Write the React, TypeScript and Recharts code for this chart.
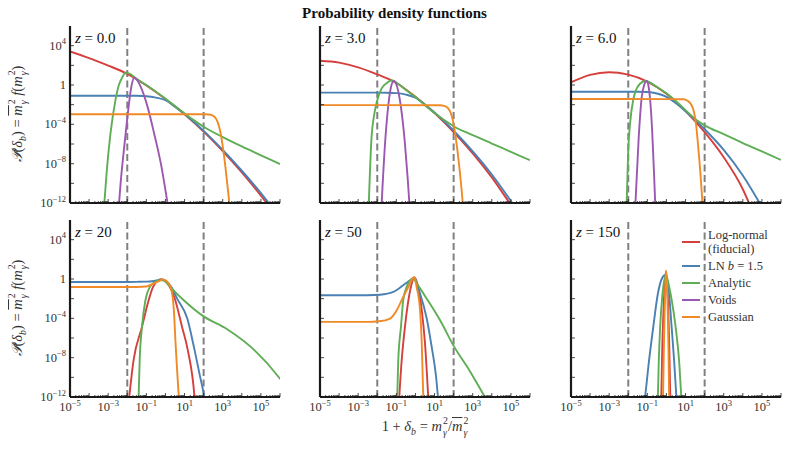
import React from 'react';
import { LineChart, Line, XAxis, YAxis, ReferenceLine, Legend } from 'recharts';

// ---- values: pairs of [log10(1+δb), log10 P] ----
const redZ0 = [[-5, 3.41], [-4, 2.73], [-3, 1.98], [-2, 1.13], [-1, -0.05], [0, -1.42], [1, -2.97], [2, -4.73], [3, -6.71], [4, -8.89], [5, -11.26], [6, -13.8]];
const blueZ0 = [[-5, -1.09], [-3, -1.09], [-2, -1.09], [-1.5, -1.1], [-1, -1.14], [-0.5, -1.28], [0, -1.55], [0.5, -2.2], [1, -2.95], [2, -4.66], [3, -6.6], [4, -8.72], [5, -11.0], [6, -13.5]];
const greenZ0 = [[-3.24, -13], [-3.06, -8.4], [-2.88, -4.95], [-2.62, -1.54], [-2.44, 0], [-2.26, 0.78], [-2.09, 1.26], [-1.9, 1.17], [-1.7, 0.92], [-1.5, 0.6], [-1, 0.0], [0, -1.4], [1, -2.9], [1.5, -3.6], [2, -4.25], [3, -5.3], [4, -6.25], [5, -7.15], [6, -8.05]];
const purpleZ0 = [[-2.47, -13], [-2.35, -10.0], [-2.18, -6.65], [-2.0, -3.4], [-1.91, -1.88], [-1.77, 0.0], [-1.63, 0.75], [-1.45, 0.4], [-1.3, -0.17], [-0.94, -2.2], [-0.59, -4.95], [-0.24, -8.0], [0.17, -12.8]];
const orangeZ0 = [[-5, -2.97], [-2, -2.97], [1, -2.97], [2, -2.98], [2.3, -3.0], [2.55, -3.2], [2.72, -3.7], [2.88, -4.8], [3.02, -6.5], [3.15, -8.5], [3.28, -10.8], [3.4, -13]];

const redZ3 = [[-5, 2.46], [-4, 2.27], [-3, 1.8], [-2, 1.08], [-1.2, 0.42], [-1, 0.2], [0, -1.2], [1, -2.85], [2, -4.78], [3, -6.95], [4, -9.4], [5, -12.2], [6, -15]];
const blueZ3 = [[-5, -0.78], [-2, -0.78], [-1.5, -0.79], [-1, -0.83], [-0.5, -0.98], [0, -1.3], [0.5, -2.0], [1, -2.8], [2, -4.65], [3, -6.75], [4, -9.1], [5, -11.8], [6, -14.7]];
const greenZ3 = [[-2.46, -13], [-2.3, -5.3], [-2.18, -3.24], [-2.0, -1.54], [-1.77, -0.34], [-1.47, 0.24], [-1.25, 0.48], [-1.0, 0.25], [-0.5, -0.52], [0, -1.22], [0.5, -2.05], [1, -2.85], [1.5, -3.55], [2, -4.2], [3, -5.1], [4, -5.95], [5, -6.8], [6, -7.65]];
const purpleZ3 = [[-1.79, -12.8], [-1.6, -6.15], [-1.45, -2.57], [-1.3, -0.38], [-1.14, 0.41], [-1.0, 0.05], [-0.85, -1.14], [-0.7, -3.15], [-0.55, -5.99], [-0.4, -9.67], [-0.3, -12.6]];
const orangeZ3 = [[-5, -2.05], [-2, -2.05], [1.3, -2.06], [1.5, -2.12], [1.7, -2.35], [1.85, -2.85], [1.97, -3.7], [2.1, -5.2], [2.25, -7.5], [2.4, -10.3], [2.52, -13]];

const redZ6 = [[-5, 0.27], [-4, 1.03], [-3, 1.3], [-2, 1.05], [-1, 0.35], [0, -0.9], [1, -2.65], [2, -4.8], [3, -7.35], [4, -10.6], [4.5, -12.8]];
const blueZ6 = [[-5, -0.68], [-2, -0.68], [-1.5, -0.68], [-1, -0.71], [-0.5, -0.86], [0, -1.2], [0.5, -1.85], [1, -2.68], [1.5, -3.55], [2, -4.5], [3, -6.6], [4, -9.2], [5, -12.4]];
const greenZ6 = [[-2.1, -13], [-2.0, -6.5], [-1.9, -3.8], [-1.75, -1.6], [-1.6, -0.55], [-1.4, 0.1], [-1.1, 0.41], [-0.5, -0.2], [0, -0.85], [0.5, -1.65], [1, -2.55], [1.5, -3.45], [2, -4.1], [3, -5.0], [4, -5.9], [5, -6.75], [6, -7.62]];
const purpleZ6 = [[-1.65, -13], [-1.45, -5.2], [-1.3, -1.3], [-1.15, 0.1], [-1.04, 0.41], [-0.95, 0.0], [-0.85, -1.6], [-0.75, -4.6], [-0.65, -9.0], [-0.57, -13]];
const orangeZ6 = [[-5, -1.43], [-2, -1.43], [0.9, -1.45], [1.1, -1.6], [1.3, -2.0], [1.45, -2.8], [1.55, -4.0], [1.65, -6.0], [1.78, -9.0], [1.92, -13]];

const redZ20 = [[-1.95, -13], [-1.67, -8.25], [-1.23, -4.87], [-0.88, -2.16], [-0.65, -0.81], [-0.4, -0.15], [-0.2, -0.03], [0, -0.2], [0.2, -0.72], [0.44, -1.7], [0.88, -4.95], [1.17, -7.23], [1.53, -12.2], [1.56, -13]];
const blueZ20 = [[-5, -0.3], [-2, -0.3], [-1.5, -0.29], [-1, -0.27], [-0.6, -0.2], [-0.25, -0.1], [0, -0.2], [0.3, -0.8], [0.61, -1.99], [1.14, -4.0], [1.5, -7.0], [1.8, -9.8], [2.03, -12], [2.1, -13]];
const greenZ20 = [[-1.42, -13], [-1.35, -8.25], [-1.23, -4.87], [-1.05, -2.16], [-0.82, -0.81], [-0.5, -0.25], [-0.17, -0.1], [0.1, -0.45], [0.35, -1.0], [0.96, -2.16], [1.96, -3.75], [3.25, -5.13], [4.47, -6.9], [5.96, -10.04], [6.1, -10.4]];
const orangeZ20 = [[-5, -0.81], [-1.5, -0.81], [-1.0, -0.76], [-0.61, -0.47], [-0.26, -0.13], [-0.12, -0.06], [0.18, -0.47], [0.35, -1.48], [0.44, -3.17], [0.53, -6.55], [0.61, -9.26], [0.7, -12], [0.73, -13]];

const redZ50 = [[-0.88, -13], [-0.72, -8.25], [-0.55, -4.87], [-0.37, -2.16], [-0.2, -0.5], [-0.06, 0.15], [0.1, -0.5], [0.33, -3.17], [0.5, -6.55], [0.67, -12], [0.7, -13]];
const blueZ50 = [[-5, -1.65], [-2.5, -1.65], [-1.86, -1.6], [-1.16, -1.32], [-0.64, -0.64], [-0.3, -0.15], [-0.08, 0.14], [0.24, -1.48], [0.59, -4.02], [0.85, -6.9], [1.08, -9.94], [1.2, -12.5]];
const greenZ50 = [[-0.97, -13], [-0.9, -8.25], [-0.76, -4.87], [-0.64, -2.16], [-0.46, -0.81], [-0.12, 0.05], [0.1, -0.55], [0.59, -2.0], [1.29, -4.2], [2, -6.8], [2.86, -9.4], [3.64, -12], [3.95, -13]];
const orangeZ50 = [[-5, -4.36], [-2.5, -4.36], [-1.9, -4.3], [-1.33, -4.02], [-0.98, -3.17], [-0.64, -1.82], [-0.37, -0.81], [-0.06, 0.2], [0.06, -0.81], [0.24, -3.17], [0.33, -6.55], [0.41, -12], [0.43, -13]];

const redZ150 = [[-0.3, -13], [-0.27, -12], [-0.22, -7], [-0.16, -3.5], [-0.09, -0.6], [-0.03, 0.75], [0.03, -0.3], [0.09, -2.8], [0.15, -7], [0.2, -12], [0.22, -13]];
const blueZ150 = [[-1.2, -13.2], [-1.12, -12], [-0.91, -8.25], [-0.69, -4.87], [-0.45, -1.5], [-0.25, 0.0], [-0.08, 0.38], [0.05, -0.3], [0.15, -1.8], [0.27, -4.87], [0.4, -8.25], [0.52, -12], [0.56, -13.2]];
const greenZ150 = [[-0.47, -13], [-0.45, -12], [-0.4, -8.25], [-0.33, -4.87], [-0.22, -1.8], [-0.1, 0.0], [-0.02, 0.38], [0.1, -0.4], [0.28, -2.2], [0.48, -4.87], [0.66, -8.25], [0.78, -12], [0.82, -13]];
const orangeZ150 = [[-0.2, -13], [-0.18, -12], [-0.14, -7.5], [-0.1, -3.8], [-0.06, -1.0], [-0.02, 0.88], [0.03, -0.5], [0.07, -3.5], [0.11, -7.5], [0.14, -12], [0.16, -13]];

// ---- labels / ticks ----
const SERIES_COLORS = ['#d6403c', '#4a80b2', '#5fae56', '#9b58b0', '#f08a27'];
const LEGEND_LABELS = ['Log-normal', 'LN b = 1.5', 'Analytic', 'Voids', 'Gaussian'];
const REDSHIFT_LABELS = ['0.0', '3.0', '6.0', '20', '50', '150'];
const X_DECADES = [-5, -4, -3, -2, -1, 0, 1, 2, 3, 4, 5, 6];
const X_LABEL_EXPS = [-5, -3, -1, 1, 3, 5];
const Y_TICK_EXPS = [-12, -10, -8, -6, -4, -2, 0, 2, 4];
const Y_LABEL_EXPS = [-12, -8, -4, 0, 4];
const VLINES = [1e-2, 1e2];
const X_DOMAIN = [1e-5, 1e6];
const Y_DOMAIN = [1e-12, 1e6];

const FONT = '"Liberation Serif", "DejaVu Serif", serif';
const INK = '#1a1a1a';
const LABEL_INK = '#333';

const X_TICKS: number[] = [];
X_DECADES.forEach((e) => {
  X_TICKS.push(10 ** e);
  if (e < 6) for (let m = 2; m <= 9; m++) X_TICKS.push(m * 10 ** e);
});
const Y_TICKS = Y_TICK_EXPS.map((e) => 10 ** e);

const toPts = (arr: number[][]) => arr.map(([lx, ly]) => ({ x: 10 ** lx, y: 10 ** ly }));
const fmtExp = (e: number) => (e < 0 ? '\u2212' + Math.abs(e) : String(e));

const makeXTick = (labels: boolean, side: 'bottom' | 'top') => (props: any) => {
  const { x, y, payload } = props;
  const e = Math.log10(payload.value);
  const re = Math.round(e);
  const major = Math.abs(e - re) < 1e-6;
  const len = major ? 4 : 2;
  const dir = side === 'bottom' ? -1 : 1;
  return (
    <g>
      <line x1={x} x2={x} y1={y} y2={y + dir * len} stroke={INK} strokeWidth={0.8} />
      {labels && major && X_LABEL_EXPS.includes(re) && (
        <text x={x} y={y + 14} textAnchor="middle" fontSize={12.5} fill={LABEL_INK} fontFamily={FONT}>
          <tspan>10</tspan>
          <tspan dy={-5.5} fontSize={8.5}>{fmtExp(re)}</tspan>
        </text>
      )}
    </g>
  );
};

const makeYTick = (labels: boolean, side: 'left' | 'right') => (props: any) => {
  const { x, y, payload } = props;
  const re = Math.round(Math.log10(payload.value));
  const dir = side === 'left' ? 1 : -1;
  return (
    <g>
      <line x1={x} x2={x + dir * 4} y1={y} y2={y} stroke={INK} strokeWidth={0.8} />
      {labels && Y_LABEL_EXPS.includes(re) && (
        <text x={x - 4} y={y + 4} textAnchor="end" fontSize={12.5} fill={LABEL_INK} fontFamily={FONT}>
          {re === 0 ? (
            <tspan>1</tspan>
          ) : (
            <>
              <tspan>10</tspan>
              <tspan dy={-5.5} fontSize={8.5}>{fmtExp(re)}</tspan>
            </>
          )}
        </text>
      )}
    </g>
  );
};

const AXIS_LINE = { stroke: INK, strokeWidth: 2.2 };

const LegendBox = () => (
  <div style={{ fontFamily: FONT, fontSize: 12.5, color: LABEL_INK, lineHeight: '14px' }}>
    {LEGEND_LABELS.map((lab, i) => (
      <div key={lab} style={{ display: 'flex', alignItems: 'center', marginBottom: 3 }}>
        <span style={{ display: 'inline-block', width: 18, height: 2, background: SERIES_COLORS[i], marginRight: 8 }} />
        <span>
          {i === 0 ? (
            <>
              Log-normal
              <br />
              (fiducial)
            </>
          ) : i === 1 ? (
            <>
              LN <i>b</i> = 1.5
            </>
          ) : (
            lab
          )}
        </span>
      </div>
    ))}
  </div>
);

type PanelDef = {
  left: number;
  top: number;
  label: string;
  series: (number[][] | null)[];
  showX: boolean;
  showY: boolean;
  legend?: boolean;
};

const COL_LEFT = [70, 320, 571];
const ROW_TOP = [26, 220];
const PW = 210;
const PH = 177;

const PANELS: PanelDef[] = [
  { left: COL_LEFT[0], top: ROW_TOP[0], label: REDSHIFT_LABELS[0], series: [redZ0, blueZ0, greenZ0, purpleZ0, orangeZ0], showX: false, showY: true },
  { left: COL_LEFT[1], top: ROW_TOP[0], label: REDSHIFT_LABELS[1], series: [redZ3, blueZ3, greenZ3, purpleZ3, orangeZ3], showX: false, showY: false },
  { left: COL_LEFT[2], top: ROW_TOP[0], label: REDSHIFT_LABELS[2], series: [redZ6, blueZ6, greenZ6, purpleZ6, orangeZ6], showX: false, showY: false },
  { left: COL_LEFT[0], top: ROW_TOP[1], label: REDSHIFT_LABELS[3], series: [redZ20, blueZ20, greenZ20, null, orangeZ20], showX: true, showY: true },
  { left: COL_LEFT[1], top: ROW_TOP[1], label: REDSHIFT_LABELS[4], series: [redZ50, blueZ50, greenZ50, null, orangeZ50], showX: true, showY: false },
  { left: COL_LEFT[2], top: ROW_TOP[1], label: REDSHIFT_LABELS[5], series: [redZ150, blueZ150, greenZ150, null, orangeZ150], showX: true, showY: false, legend: true },
];

const ML = 50;
const MT = 10;

function Panel({ p }: { p: PanelDef }) {
  return (
    <div style={{ position: 'absolute', left: p.left - ML, top: p.top - MT }}>
      <LineChart width={ML + PW + 10} height={MT + PH + 25} margin={{ top: MT, right: 10, bottom: 0, left: 0 }}>
        <XAxis
          dataKey="x"
          type="number"
          scale="log"
          domain={X_DOMAIN}
          allowDataOverflow
          ticks={X_TICKS}
          interval={0}
          tickSize={0}
          tickMargin={0}
          tickLine={false}
          axisLine={AXIS_LINE}
          tick={makeXTick(p.showX, 'bottom')}
          height={25}
          orientation="bottom"
        />
        <XAxis
          xAxisId="t"
          dataKey="x"
          type="number"
          scale="log"
          domain={X_DOMAIN}
          allowDataOverflow
          ticks={X_TICKS}
          interval={0}
          tickSize={0}
          tickMargin={0}
          tickLine={false}
          axisLine={AXIS_LINE}
          tick={makeXTick(false, 'top')}
          height={0}
          orientation="top"
        />
        <YAxis
          type="number"
          scale="log"
          domain={Y_DOMAIN}
          allowDataOverflow
          ticks={Y_TICKS}
          interval={0}
          tickSize={0}
          tickMargin={0}
          tickLine={false}
          axisLine={AXIS_LINE}
          tick={makeYTick(p.showY, 'left')}
          width={ML}
          orientation="left"
        />
        <YAxis
          yAxisId="r"
          type="number"
          scale="log"
          domain={Y_DOMAIN}
          allowDataOverflow
          ticks={Y_TICKS}
          interval={0}
          tickSize={0}
          tickMargin={0}
          tickLine={false}
          axisLine={AXIS_LINE}
          tick={makeYTick(false, 'right')}
          width={0}
          orientation="right"
        />
        {VLINES.map((v) => (
          <ReferenceLine key={v} x={v} stroke="#808080" strokeWidth={2} strokeDasharray="7 3.5" />
        ))}
        {p.series.map((s, i) =>
          s ? (
            <Line
              key={i}
              data={toPts(s)}
              dataKey="y"
              type="monotone"
              stroke={SERIES_COLORS[i]}
              strokeWidth={1.9}
              dot={false}
              activeDot={false}
              isAnimationActive={false}
            />
          ) : null
        )}
        {p.legend && (
          <Legend
            layout="vertical"
            align="center"
            verticalAlign="middle"
            content={() => <LegendBox />}
            wrapperStyle={{ left: 682 - p.left + ML, top: 228 - p.top + MT, width: 'auto', height: 'auto', right: 'auto', bottom: 'auto' }}
          />
        )}
      </LineChart>
      <div
        style={{
          position: 'absolute',
          left: ML + 5,
          top: MT + 5,
          fontFamily: FONT,
          fontSize: 15,
          color: '#111',
          whiteSpace: 'nowrap',
          lineHeight: 1,
        }}
      >
        <i>z</i> = {p.label}
      </div>
    </div>
  );
}

const MSq = () => (
  <span style={{ fontStyle: 'italic' }}>
    m
    <span style={{ display: 'inline-flex', flexDirection: 'column', fontSize: '0.68em', lineHeight: 0.9, verticalAlign: 'middle', fontStyle: 'normal', marginLeft: 1 }}>
      <span style={{ position: 'relative', top: -2 }}>2</span>
      <span style={{ fontStyle: 'italic', position: 'relative', top: 1 }}>γ</span>
    </span>
  </span>
);

const YLabel = ({ cy }: { cy: number }) => (
  <div
    style={{
      position: 'absolute',
      left: 19,
      top: cy,
      transform: 'translate(-50%, -50%) rotate(-90deg)',
      whiteSpace: 'nowrap',
      fontFamily: FONT,
      fontSize: 14.5,
      lineHeight: 1,
      color: LABEL_INK,
    }}
  >
    <span style={{ fontStyle: 'italic' }}>𝒫</span>(<i>δ</i>
    <sub style={{ fontSize: '0.68em' }}>
      <i>b</i>
    </sub>
    ) = <span style={{ textDecoration: 'overline' }}><MSq /></span> <i>f</i>(<MSq />)
  </div>
);

export default function App() {
  return (
    <div style={{ position: 'relative', width: 789, height: 451, background: '#fff', overflow: 'hidden' }}>
      <style>{'body{margin:0;background:#fff}'}</style>
      <div
        style={{
          position: 'absolute',
          left: 0,
          top: 5,
          width: 789,
          textAlign: 'center',
          fontFamily: FONT,
          fontWeight: 'bold',
          fontSize: 15,
          color: '#111',
        }}
      >
        Probability density functions
      </div>
      {PANELS.map((p, i) => (
        <Panel key={i} p={p} />
      ))}
      <YLabel cy={114} />
      <YLabel cy={308} />
      <div
        style={{
          position: 'absolute',
          left: 425,
          top: 428,
          transform: 'translate(-50%, -50%)',
          whiteSpace: 'nowrap',
          fontFamily: FONT,
          fontSize: 14.5,
          lineHeight: 1,
          color: LABEL_INK,
        }}
      >
        1 + <i>δ</i>
        <sub style={{ fontSize: '0.68em' }}>
          <i>b</i>
        </sub>{' '}
        = <MSq />/<span style={{ textDecoration: 'overline' }}><MSq /></span>
      </div>
    </div>
  );
}
